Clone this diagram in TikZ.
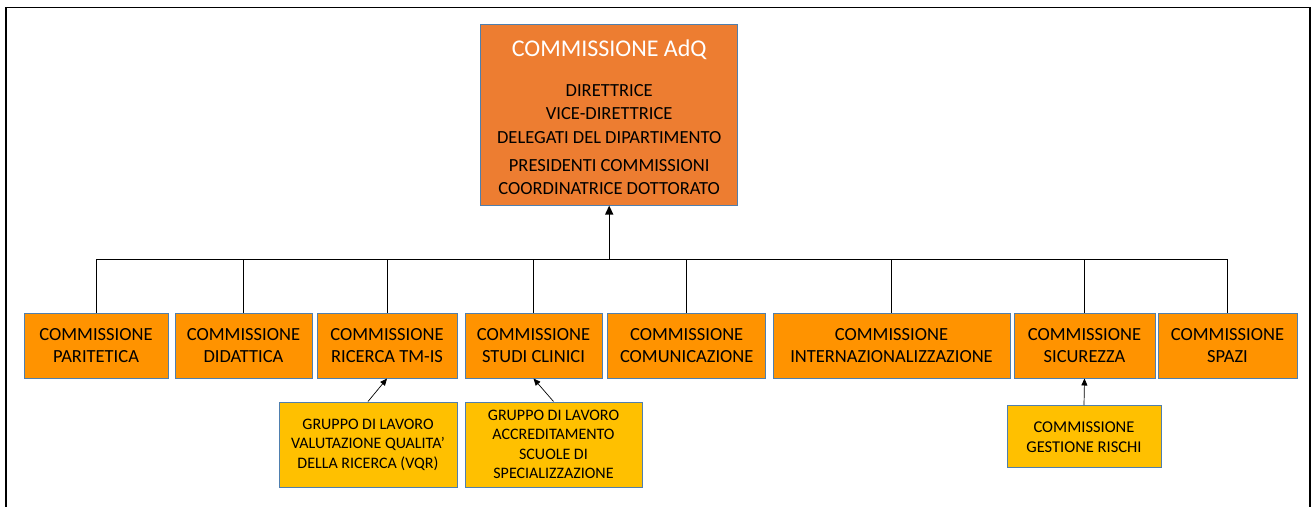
\documentclass[tikz,border=0pt]{standalone}
\usepackage{fontspec}
\setmainfont{Carlito}
\usetikzlibrary{arrows.meta}
\definecolor{adqfill}{HTML}{ED7D31}
\definecolor{comfill}{HTML}{FF9300}
\definecolor{subfill}{HTML}{FFC000}
\definecolor{boxedge}{HTML}{4F7FAE}
\tikzset{
  boxbase/.style={draw=boxedge, line width=1pt, align=center, inner sep=0pt, text=black},
  adqbox/.style={boxbase, fill=adqfill, minimum width=257pt, minimum height=180.7pt},
  combox/.style={boxbase, fill=comfill, minimum height=65pt, font=\fontsize{18.5}{22.5}\selectfont},
  subbox/.style={boxbase, fill=subfill, font=\fontsize{16}{19.5}\selectfont},
  wire/.style={draw=black, line width=0.8pt},
  uparrow/.style={draw=black, line width=0.7pt, -{Triangle[length=7pt,width=6pt]}},
}
\begin{document}
\begin{tikzpicture}[x=1pt,y=-1pt]
\useasboundingbox (0,0) rectangle (1314,506);
% outer frame
\coordinate (fbl) at (6,520);
\coordinate (ftl) at (6,7.5);
\coordinate (ftr) at (1310,7.5);
\coordinate (fbr) at (1310,520);
\draw[line width=1.6pt] (fbl) -- (ftl) -- (ftr) -- (fbr);

% top box
\node[adqbox] (adq) at (609.2,114.7) {};
\node[font=\fontsize{24}{28}\selectfont, text=white] (adqtitle) at (609.2,50) {COMMISSIONE AdQ};
\node[font=\fontsize{18.5}{23.5}\selectfont, align=center, anchor=north, inner sep=0pt] (adqlist1) at (609.2,84) {DIRETTRICE\\VICE-DIRETTRICE\\DELEGATI DEL DIPARTIMENTO};
\node[font=\fontsize{18.5}{23.5}\selectfont, align=center, anchor=north, inner sep=0pt] (adqlist2) at (609.2,159) {PRESIDENTI COMMISSIONI\\COORDINATRICE DOTTORATO};

% commissions
\node[combox, minimum width=144pt] (p1) at (96,345.5) {COMMISSIONE\\PARITETICA};
\node[combox, minimum width=137pt] (p2) at (243.5,345.5) {COMMISSIONE\\DIDATTICA};
\node[combox, minimum width=140pt] (p3) at (387,345.5) {COMMISSIONE\\RICERCA TM-IS};
\node[combox, minimum width=137pt] (p4) at (533.5,345.5) {COMMISSIONE\\STUDI CLINICI};
\node[combox, minimum width=158pt] (p5) at (686.7,345.5) {COMMISSIONE\\COMUNICAZIONE};
\node[combox, minimum width=237pt] (p6) at (891.5,345.5) {COMMISSIONE\\INTERNAZIONALIZZAZIONE};
\node[combox, minimum width=141pt] (p7) at (1084.5,345.5) {COMMISSIONE\\SICUREZZA};
\node[combox, minimum width=139pt] (p8) at (1227.5,345.5) {COMMISSIONE\\SPAZI};

% sub boxes
\node[subbox, minimum width=178pt, minimum height=85pt] (vqr) at (368,444.5) {GRUPPO DI LAVORO\\VALUTAZIONE QUALITA’\\DELLA RICERCA (VQR)};
\node[subbox, minimum width=177pt, minimum height=85pt] (acc) at (553.5,444.5) {GRUPPO DI LAVORO\\ACCREDITAMENTO\\SCUOLE DI\\SPECIALIZZAZIONE};
\node[subbox, minimum width=154pt, minimum height=62pt, font=\fontsize{16.5}{20}\selectfont] (gr) at (1084,436.7) {COMMISSIONE\\GESTIONE RISCHI};

% bus
\coordinate (bus) at (609.2,259);
\draw[wire] (p1.north) -- (p1.north |- bus) -- (p8.north |- bus) -- (p8.north);
\foreach \b in {p2,p3,p4,p5,p6,p7}{
  \draw[wire] (\b.north) -- (\b.north |- bus);
}
\draw[line width=1.4pt, -{Triangle[length=9pt,width=8pt]}] (bus) -- (adq.south);

% sub arrows
\draw[uparrow] (vqr.north) -- (p3.south);
\draw[uparrow] (acc.north) -- (p4.south);
\draw[uparrow] (gr.north) -- (p7.south);
\end{tikzpicture}
\end{document}
